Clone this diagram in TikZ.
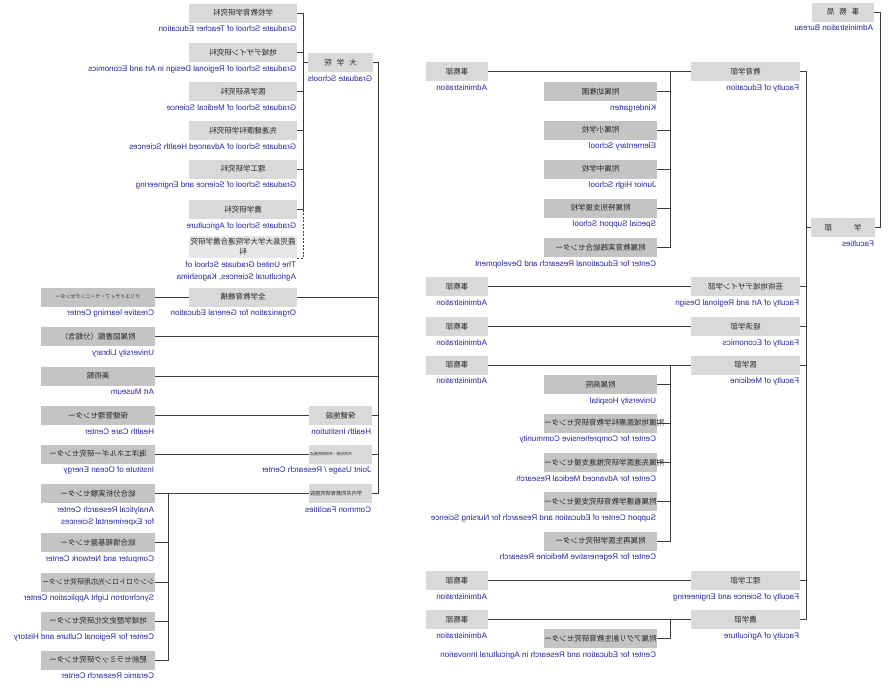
\documentclass[tikz,border=0pt]{standalone}
\usepackage{fontspec}
\setmainfont{Liberation Sans}
\newfontfamily\jpfont{Noto Sans CJK JP}
\usepackage{graphicx}
\usepackage{tikz}
\definecolor{boxgray}{RGB}{217,217,217}
\definecolor{subgray}{RGB}{196,196,196}
\definecolor{palegray}{RGB}{230,230,230}
\definecolor{labelblue}{RGB}{36,36,150}
\definecolor{linegray}{RGB}{60,60,60}
\newcommand{\mir}[1]{\reflectbox{#1}}

\begin{document}
\begin{tikzpicture}[x=1pt, y=-1pt,
    orgbox/.style={fill=boxgray, minimum height=19pt, inner sep=0pt,
        font=\jpfont\fontsize{7.5}{10}\selectfont, text=black!85},
    subbox/.style={orgbox, fill=subgray},
    engl/.style={anchor=north east, inner sep=0pt, xshift=-1pt, yshift=-3pt,
        font=\fontsize{8}{12}\selectfont, text=labelblue},
    conn/.style={draw=linegray, line width=0.8pt}]
    \useasboundingbox (0,0) rectangle (890,686);

    % administration bureau and faculties
    \node[orgbox, minimum width=62pt] (abur) at (843,12) {\mir{事\hspace{5pt}務\hspace{5pt}局}};
    \node[engl] (abur-l) at (abur.south east) {\mir{Administration Bureau}};
    \node[orgbox, minimum width=64pt] (fac) at (843,227.5) {\mir{学\hspace{22pt}部}};
    \node[engl] (fac-l) at (fac.south east) {\mir{Faculties}};

    \foreach \n/\y/\jp/\en in {edu/71.5/教育学部/Faculty of Education,
        art/286.5/芸術地域デザイン学部/Faculty of Art and Regional Design,
        eco/326.5/経済学部/Faculty of Economics,
        med/365/医学部/Faculty of Medicine,
        sci/580.5/理工学部/Faculty of Science and Engineering,
        agr/619.5/農学部/Faculty of Agriculture} {
        \node[orgbox, minimum width=109pt] (\n) at (745.5,\y) {\mir{\jp}};
        \node[engl] (\n-l) at (\n.south east) {\mir{\en}};
        \node[orgbox, minimum width=62pt] (\n-adm) at (457,\y) {\mir{事務部}};
        \node[engl] (\n-adm-l) at (\n-adm.south east) {\mir{Administration}};
        \draw[conn] (\n-adm) -- (\n);
    }

    \coordinate (abus) at (880,12);
    \coordinate (fbus) at (806,227.5);
    \draw[conn] (abur.east) -- (abus) |- (fac.east);
    \draw[conn] (fac.west) -- (fbus);
    \draw[conn] (edu.east) -- (edu.east -| fbus) -- (agr.east -| fbus) -- (agr.east);
    \foreach \n in {art,eco,med,sci}
        \draw[conn] (\n.east) -- (\n.east -| fbus);

    % attached schools and centers
    \foreach \n/\y/\jp/\en in {kg/91.5/附属幼稚園/Kindergarten,
        el/130/附属小学校/Elementary School,
        jh/169/附属中学校/Junior High School,
        ss/208/附属特別支援学校/Special Support School,
        cerd/247.5/附属教育実践総合センター/Center for Educational Research and Development,
        hosp/384.5/附属病院/University Hospital,
        regen/541/附属再生医学研究センター/Center for Regenerative Medicine Research,
        agri/638.5/附属アグリ創生教育研究センター/Center for Education and Research in Agricultural Innovarion} {
        \node[subbox, minimum width=113pt] (\n) at (600.5,\y) {\mir{\jp}};
        \node[engl] (\n-l) at (\n.south east) {\mir{\en}};
    }
    \foreach \n/\y/\jp/\en in {ccc/423/附属地域医療科学教育研究センター/Center for Comprehensive Community,
        camr/462.5/附属先進医学研究推進支援センター/Center for Advanced Medical Research,
        nurs/501.5/附属看護学教育研究支援センター/Support Center of Education and Research for Nursing Science} {
        \node[subbox, minimum width=113pt] (\n) at (600.5,\y) {\mir{\makebox[113pt][r]{\jp}}};
        \node[engl] (\n-l) at (\n.south east) {\mir{\en}};
    }

    \coordinate (ebus) at (670,71.5);
    \coordinate (mbus) at (670,365);
    \coordinate (agbus) at (670,619.5);
    \draw[conn] (ebus) |- (cerd.east);
    \foreach \n in {kg,el,jh,ss}
        \draw[conn] (\n.east) -- (\n.east -| ebus);
    \draw[conn] (mbus) |- (regen.east);
    \foreach \n in {hosp,ccc,camr,nurs}
        \draw[conn] (\n.east) -- (\n.east -| mbus);
    \draw[conn] (agbus) |- (agri.east);

    % graduate schools
    \node[orgbox, minimum width=65pt] (gs) at (340.5,62.5) {\mir{大\hspace{5pt}学\hspace{5pt}院}};
    \node[engl] (gs-l) at (gs.south east) {\mir{Graduate Schools}};
    \foreach \n/\y/\jp/\en in {gte/13/学校教育学研究科/Graduate School of Teacher Education,
        grd/52.5/地域デザイン研究科/Graduate School of Regional Design in Art and Economics,
        gms/91.5/医学系研究科/Graduate School of Medical Science,
        gahs/130.5/先進健康科学研究科/Graduate School of Advanced Health Sciences,
        gse/169/理工学研究科/Graduate School of Science and Engineering,
        gag/209.5/農学研究科/Graduate School of Agriculture} {
        \node[orgbox, minimum width=108pt] (\n) at (243,\y) {\mir{\jp}};
        \node[engl] (\n-l) at (\n.south east) {\mir{\en}};
    }
    \node[orgbox, fill=palegray, minimum width=108pt, minimum height=22pt] (ugs) at (243,247)
        {\mir{\begin{tabular}{@{}c@{}}鹿児島大学大学院連合農学研究\\科\end{tabular}}};
    \node[engl, yshift=2pt] (ugs-l) at (ugs.south east)
        {\mir{\begin{tabular}{@{}l@{}}The United Graduate School of\\Agricultural Sciences, Kagoshima\end{tabular}}};

    \coordinate (gbus) at (303,62.5);
    \draw[conn] (gs.west) -- (gbus);
    \draw[conn] (gte.east) -- (gte.east -| gbus) -- (gag.east -| gbus) -- (gag.east);
    \foreach \n in {grd,gms,gahs,gse}
        \draw[conn] (\n.east) -- (\n.east -| gbus);
    \draw[conn, line width=0.6pt, dash pattern=on 2pt off 1.5pt] (gag.east -| gbus) |- (ugs.south east);

    % organizations, library, museum and centers
    \node[orgbox, minimum width=108pt] (oge) at (243,297) {\mir{全学教育機構}};
    \node[engl] (oge-l) at (oge.south east) {\mir{Organization for General Education}};
    \node[subbox, minimum width=114pt, font=\jpfont\fontsize{5}{6}\selectfont] (clc) at (98,297)
        {\mir{クリエイティブ・ラーニングセンター}};
    \node[engl] (clc-l) at (clc.south east) {\mir{Creative learning Center}};
    \foreach \n/\y/\jp/\en in {lib/336.5/附属図書館（分館含）/University Library,
        mus/376/美術館/Art Museum,
        hcc/415.5/保健管理センター/Health Care Center,
        ioe/454/海洋エネルギー研究センター/Institute of Ocean Energy,
        cnc/542.5/総合情報基盤センター/Computer and Network Center,
        crch/621/地域学歴史文化研究センター/Center for Regional Culture and History,
        crc/660/肥前セラミック研究センター/Ceramic Research Center} {
        \node[subbox, minimum width=114pt] (\n) at (98,\y) {\mir{\jp}};
        \node[engl] (\n-l) at (\n.south east) {\mir{\en}};
    }
    \node[subbox, minimum width=114pt, font=\jpfont\fontsize{7}{9}\selectfont] (sla) at (98,582)
        {\mir{シンクロトロン光応用研究センター}};
    \node[engl] (sla-l) at (sla.south east) {\mir{Synchrotron Light Application Center}};
    \node[subbox, minimum width=114pt] (arc) at (98,493.5) {\mir{総合分析実験センター}};
    \node[engl, yshift=2pt] (arc-l) at (arc.south east)
        {\mir{\begin{tabular}{@{}l@{}}Analytical Research Center\\for Experimental Sciences\end{tabular}}};

    \node[orgbox, minimum width=63pt] (hi) at (340.5,415.5) {\mir{保健施設}};
    \node[engl] (hi-l) at (hi.south east) {\mir{Health Institution}};
    \node[orgbox, minimum width=63pt, font=\jpfont\fontsize{3.8}{5}\selectfont] (ju) at (340.5,454)
        {\mir{\makebox[61pt][r]{共同利用・共同研究拠点}}};
    \node[engl] (ju-l) at (ju.south east) {\mir{Joint Usage / Research Center}};
    \node[orgbox, minimum width=63pt, font=\jpfont\fontsize{5.2}{6}\selectfont] (cf) at (340.5,493.5)
        {\mir{\makebox[61pt][r]{学内共同教育研究施設}}};
    \node[engl] (cf-l) at (cf.south east) {\mir{Common Facilities}};

    % trunk on the left
    \coordinate (trunk) at (378,62.5);
    \draw[conn] (gs.east) -- (trunk) |- (cf.east);
    \foreach \n in {oge,lib,mus,hi,ju}
        \draw[conn] (\n.east) -- (\n.east -| trunk);
    \draw[conn] (clc.east) -- (oge.west);
    \draw[conn] (hcc.east) -- (hi.west);
    \draw[conn] (ioe.east) -- (ju.west);
    \draw[conn] (arc.east) -- (cf.west);

    \coordinate (cbus) at (168,493.5);
    \draw[conn] (cbus) |- (crc.east);
    \foreach \n in {cnc,sla,crch}
        \draw[conn] (\n.east) -- (\n.east -| cbus);
\end{tikzpicture}
\end{document}
